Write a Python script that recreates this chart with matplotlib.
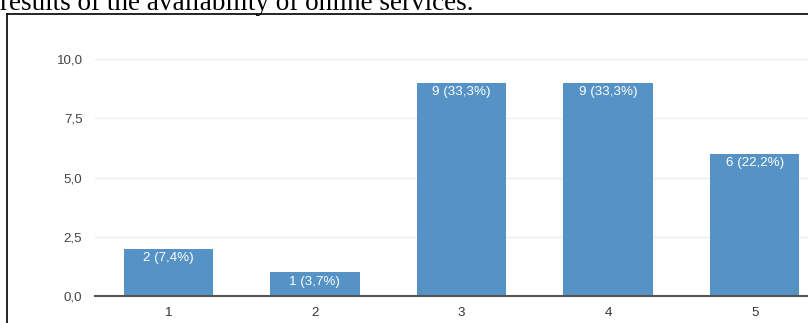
import matplotlib
matplotlib.use('Agg')
import matplotlib.pyplot as plt
from matplotlib.lines import Line2D

# survey answers (scale 1-5) and counts
categories = ['1', '2', '3', '4', '5']
counts = [2, 1, 9, 9, 6]
bar_labels = ['2 (7,4%)', '1 (3,7%)', '9 (33,3%)', '9 (33,3%)', '6 (22,2%)']
yticks = [0, 2.5, 5, 7.5, 10]
ytick_labels = ['0,0', '2,5', '5,0', '7,5', '10,0']

W, H = 808, 323
fig = plt.figure(figsize=(W / 100, H / 100), dpi=100)
fig.patch.set_facecolor('white')

# caption text cut at the top of the screenshot
fig.text(0.0, 1 - 10.5 / H, 'results of the availability of online services.',
         family='Liberation Serif', fontsize=19.5, color='black',
         ha='left', va='baseline')

# black frame around the chart
fig.add_artist(Line2D([7 / W, 1.0], [1 - 14 / H, 1 - 14 / H], color='black', lw=1.2))
fig.add_artist(Line2D([7 / W, 7 / W], [0.0, 1 - 14 / H], color='black', lw=1.2))

# axes, right edge runs past the figure like in the screenshot
ax = fig.add_axes([95 / W, (H - 296) / H, (828 - 95) / W, (296 - 59) / H])
x = list(range(1, len(categories) + 1))
bars = ax.bar(x, counts, width=0.61, color='#5592c6', zorder=2)

for b, lab in zip(bars, bar_labels):
    ax.annotate(lab, (b.get_x() + b.get_width() / 2, b.get_height()),
                xytext=(0, -2.5), textcoords='offset points',
                ha='center', va='top', color='white',
                family='Liberation Sans', fontsize=9.6, zorder=3)

ax.set_xlim(0.5, 5.5)
ax.set_ylim(0, 10)
ax.set_xticks(x)
ax.set_xticklabels(categories)
ax.set_yticks(yticks)
ax.set_yticklabels(ytick_labels)
ax.grid(axis='y', color='#eeeeee', lw=1, zorder=0)
ax.tick_params(length=0, labelsize=9.6, labelcolor='#444444')
ax.tick_params(axis='y', pad=9)
ax.tick_params(axis='x', pad=8, labelcolor='#333333')
for t in ax.get_xticklabels() + ax.get_yticklabels():
    t.set_family('Liberation Sans')

for s in ['top', 'right', 'left']:
    ax.spines[s].set_visible(False)
ax.spines['bottom'].set_color('#555555')
ax.spines['bottom'].set_linewidth(1.5)
ax.spines['bottom'].set_zorder(4)

fig.savefig('out.png', dpi=100)
